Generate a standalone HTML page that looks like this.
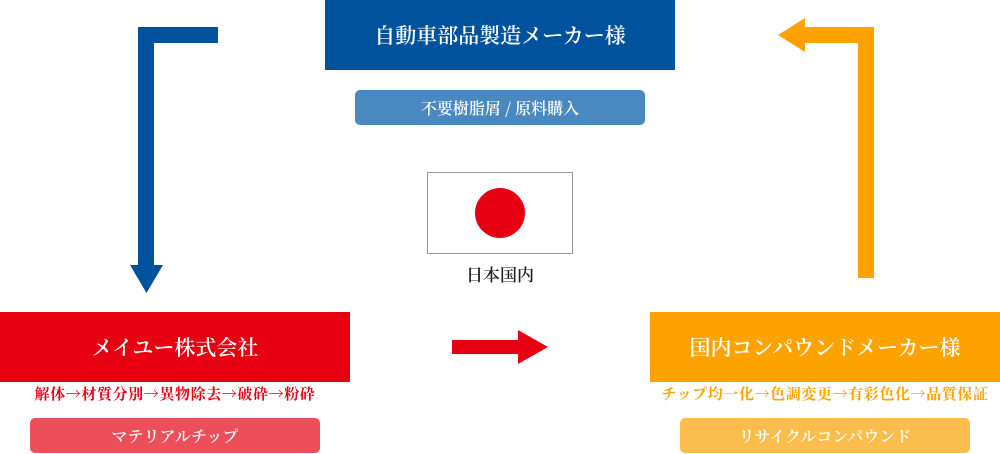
<!DOCTYPE html>
<html><head><meta charset="utf-8"><style>
body{margin:0;width:1000px;height:454px;position:relative;background:#fff;font-family:"Noto Serif CJK SC",serif;overflow:hidden}
.b{position:absolute;color:#fff;display:flex;align-items:center;justify-content:center;font-weight:600}
.t{position:absolute;text-align:center;font-weight:bold;letter-spacing:0.6px}
</style></head><body>
<svg width="1000" height="454" style="position:absolute;left:0;top:0">
<path d="M138 27H218V43H154V265H163L146.5 293L130 265H138Z" fill="#01529c"/>
<path d="M874 27V278H858V43H805V52L778 35L805 18V27Z" fill="#fea200"/>
<path d="M452 340H518V330L548 347L518 364V354H452Z" fill="#e60012"/>
<rect x="427.5" y="172.5" width="145" height="81" fill="#fff" stroke="#999"/>
<circle cx="500" cy="213" r="25" fill="#e60012"/>
</svg>
<div class="b" style="left:325px;top:0;width:350px;height:70px;background:#01529c;font-size:21px">自動車部品製造メーカー様</div>
<div class="b" style="left:355px;top:90px;width:290px;height:35px;background:#4a88c0;border-radius:5px;font-size:16px">不要樹脂屑 / 原料購入</div>
<div class="t" style="left:400px;top:261px;width:200px;font-size:17px;color:#222;font-weight:600;letter-spacing:0">日本国内</div>
<div class="b" style="left:0;top:312px;width:350px;height:70px;background:#e60012;font-size:21px">メイユー株式会社</div>
<div class="t" style="left:0;top:383px;width:350px;font-size:15px;color:#e60012">解体→材質分別→異物除去→破砕→粉砕</div>
<div class="b" style="left:30px;top:418px;width:290px;height:35px;background:#ec4e5a;border-radius:5px;font-size:16px">マテリアルチップ</div>
<div class="b" style="left:650px;top:312px;width:350px;height:70px;background:#fea200;font-size:21px">国内コンパウンドメーカー様</div>
<div class="t" style="left:650px;top:383px;width:350px;font-size:15px;color:#fea200">チップ均一化→色調変更→有彩色化→品質保証</div>
<div class="b" style="left:680px;top:418px;width:290px;height:35px;background:#fdbd4c;border-radius:5px;font-size:16px">リサイクルコンパウンド</div>
</body></html>
